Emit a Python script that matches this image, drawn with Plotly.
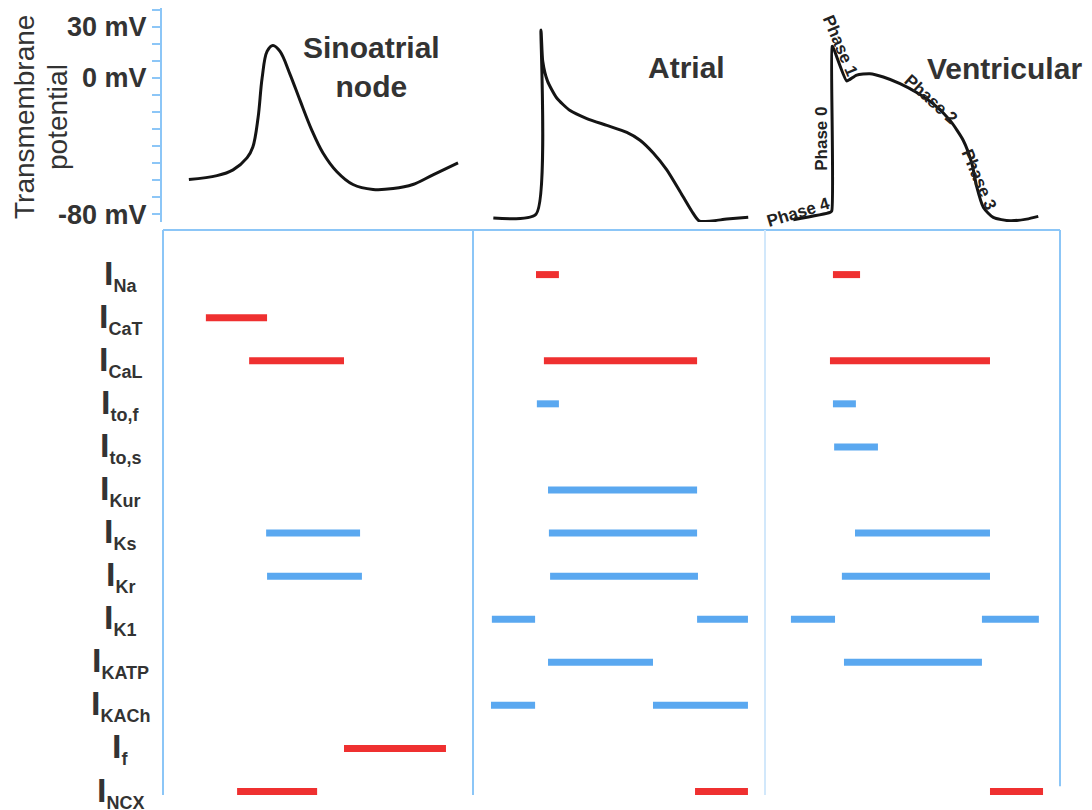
import plotly.graph_objects as go

W, H = 1092, 810
FONT = "Liberation Sans, Arial, sans-serif"
TXT = "#333333"
AXIS_BLUE = "#8cc6f7"
FAINT_BLUE = "#d2e8fb"
BAR_BLUE = "#5aa8f0"
BAR_RED = "#ef3030"

def px(x):
    return x / W

def py(y):
    return 1 - y / H

# ---------------- data ----------------
# membrane potential axis: labelled ticks and 10 mV minor ticks
mv_ticks = [30, 0, -80]
mv_labels = ["30 mV", "0 mV", "-80 mV"]
mv_minor_step = 10

# action potentials: time in a.u. (0-100 across each panel), potential in mV
sa_t = [8.7, 17.8, 23.0, 27.5, 29.4, 31.1, 32.4, 34.0, 35.9, 38.2, 41.4, 44.7,
        48.5, 52.1, 56.6, 61.8, 68.3, 74.8, 81.2, 87.7, 95.8]
sa_v = [-59.7, -57.4, -54.0, -47.0, -40.6, -23.3, -0.1, 15.5, 19.0, 15.5, 2.2,
        -13.4, -30.8, -44.1, -55.1, -62.6, -65.5, -65.0, -62.6, -56.9, -49.9]

atr_t = [7.6, 22.1, 23.8, 24.4, 26.0, 29.1, 33.7, 39.4, 46.2, 53.0, 57.5, 62.0,
         66.6, 71.1, 75.1, 77.7, 87.0, 94.3]
atr_v = [-82.3, -80.0, 28.1, 9.7, -1.8, -11.7, -19.2, -23.9, -27.9, -32.0, -36.6,
         -44.1, -54.0, -66.7, -78.3, -84.1, -82.9, -81.8]

ven_t = [9.5, 21.8, 22.4, 22.5, 22.7, 27.4, 28.5, 30.8, 35.2, 39.7, 45.3, 50.9,
         56.5, 62.1, 66.5, 69.4, 71.0, 73.3, 76.6, 82.2, 87.8, 91.7]
ven_v = [-83.3, -79.0, -78.1, 18.4, 18.4, -1.8, -0.9, 1.6, 2.4, 0.5, -3.4, -8.6,
         -15.3, -25.0, -36.6, -50.1, -63.6, -76.1, -81.9, -83.9, -82.9, -81.3]

# ionic currents (rows, top to bottom)
currents = ["Na", "CaT", "CaL", "to,f", "to,s", "Kur", "Ks", "Kr", "K1",
            "KATP", "KACh", "f", "NCX"]
inward = ["Na", "CaT", "CaL", "f", "NCX"]

# active intervals of each current (a.u. time within each panel)
sa_cur = ["CaT", "CaL", "Ks", "Kr", "f", "NCX"]
sa_start = [14.2, 28.2, 33.7, 34.0, 58.9, 24.3]
sa_end = [34.0, 58.9, 64.1, 64.7, 91.9, 50.2]

atr_cur = ["Na", "CaL", "to,f", "Kur", "Ks", "Kr", "K1", "K1", "KATP", "KACh", "KACh", "NCX"]
atr_start = [22.1, 24.8, 22.4, 26.2, 26.5, 26.9, 7.1, 76.9, 26.2, 6.8, 61.9, 76.2]
atr_end = [29.9, 76.9, 29.9, 76.9, 76.9, 77.2, 21.8, 94.2, 61.9, 21.8, 94.2, 94.2]

ven_cur = ["Na", "CaL", "to,f", "to,s", "Ks", "Kr", "K1", "K1", "KATP", "NCX"]
ven_start = [22.8, 21.8, 22.8, 23.2, 30.2, 25.8, 8.7, 72.8, 26.5, 75.5]
ven_end = [31.9, 75.5, 30.5, 37.9, 75.5, 75.5, 23.5, 91.9, 72.8, 93.3]

# ---------------- figure ----------------
fig = go.Figure()

for xa, t, v, sm in [("x", sa_t, sa_v, 1.0),
                     ("x2", atr_t, atr_v, 0.6),
                     ("x3", ven_t, ven_v, 0.6)]:
    fig.add_trace(go.Scatter(x=t, y=v, xaxis=xa, yaxis="y", mode="lines",
                             line=dict(color="#141414", width=3, shape="spline",
                                       smoothing=sm),
                             hoverinfo="skip", showlegend=False))

def add_bars(xa, names, starts, ends):
    for color, is_in in [(BAR_RED, True), (BAR_BLUE, False)]:
        xs, ys = [], []
        for n, s, e in zip(names, starts, ends):
            if (n in inward) == is_in:
                r = currents.index(n)
                xs += [s, e, None]
                ys += [r, r, None]
        if xs:
            fig.add_trace(go.Scatter(x=xs, y=ys, xaxis=xa, yaxis="y2", mode="lines",
                                     line=dict(color=color, width=7),
                                     hoverinfo="skip", showlegend=False))

add_bars("x", sa_cur, sa_start, sa_end)
add_bars("x2", atr_cur, atr_start, atr_end)
add_bars("x3", ven_cur, ven_start, ven_end)

# axes geometry
top_px, bot_px = 8, 224
mv_per_px = 110 / 190.0
y_top = 30 + (27 - top_px) * mv_per_px
y_bot = -80 - (bot_px - 216) * mv_per_px

row0_px, row_step = 277, 43.45
b_top_px, b_bot_px = 232, 810
r_top = (b_top_px - row0_px) / row_step
r_bot = (b_bot_px - row0_px) / row_step

col_edges = [162, 471, 765, 1063]

minor = dict(ticks="outside", ticklen=8, tickwidth=2, tickcolor=AXIS_BLUE,
             dtick=mv_minor_step, tick0=0, showgrid=False)
axis_style = dict(showline=True, linecolor=AXIS_BLUE, linewidth=2,
                  ticks="outside", ticklen=8, tickwidth=2, tickcolor=AXIS_BLUE,
                  tickvals=mv_ticks, showgrid=False, zeroline=False,
                  range=[y_bot, y_top], fixedrange=True, minor=minor)

fig.update_layout(
    width=W, height=H, margin=dict(l=0, r=0, t=0, b=0),
    paper_bgcolor="white", plot_bgcolor="rgba(0,0,0,0)",
    font=dict(family=FONT, color=TXT),
    xaxis=dict(domain=[px(col_edges[0]), px(col_edges[1])], range=[0, 100],
               visible=False, anchor="y"),
    xaxis2=dict(domain=[px(col_edges[1]), px(col_edges[2])], range=[0, 100],
                visible=False, anchor="y"),
    xaxis3=dict(domain=[px(col_edges[2]), px(col_edges[3])], range=[0, 100],
                visible=False, anchor="y"),
    yaxis=dict(domain=[py(bot_px), py(top_px)], anchor="x",
               ticktext=mv_labels,
               tickfont=dict(family=FONT, size=27, color=TXT, weight="bold"),
               **axis_style),
    yaxis3=dict(domain=[py(bot_px), py(top_px)], overlaying="y", anchor="free",
                position=px(473), showticklabels=False, **axis_style),
    yaxis4=dict(domain=[py(bot_px), py(top_px)], overlaying="y", anchor="free",
                position=px(767), showticklabels=False, **axis_style),
    yaxis2=dict(domain=[py(b_bot_px), py(b_top_px)], range=[r_bot, r_top],
                visible=False, anchor="x", fixedrange=True),
)

# frame of the lower panel
shapes = [
    dict(x0=px(163), x1=px(1060), y0=py(232), y1=py(232), color=AXIS_BLUE),
    dict(x0=px(163), x1=px(163), y0=py(232), y1=py(802), color=AXIS_BLUE),
    dict(x0=px(473), x1=px(473), y0=py(232), y1=py(802), color=AXIS_BLUE),
    dict(x0=px(765), x1=px(765), y0=py(232), y1=py(802), color=FAINT_BLUE),
    dict(x0=px(1060), x1=px(1060), y0=py(232), y1=py(793), color=AXIS_BLUE),
]
for s in shapes:
    fig.add_shape(type="line", xref="paper", yref="paper",
                  x0=s["x0"], x1=s["x1"], y0=s["y0"], y1=s["y1"],
                  line=dict(color=s["color"], width=2))

ann = []
# current labels
for i, n in enumerate(currents):
    ann.append(dict(x=px(120), y=i, xref="paper", yref="y2",
                    text="I<sub><span style='font-size:18px'>%s</span></sub>" % n,
                    showarrow=False, xanchor="center", yanchor="middle",
                    font=dict(family=FONT, size=34, color=TXT, weight="bold")))

# panel titles
for txt, x, y in [("Sinoatrial<br>node", 371, 68), ("Atrial", 686, 68),
                  ("Ventricular", 1004, 69)]:
    ann.append(dict(x=px(x), y=py(y), xref="paper", yref="paper", text=txt,
                    showarrow=False, xanchor="center", yanchor="middle",
                    font=dict(family=FONT, size=30, color=TXT, weight="bold")))

# y title
for txt, x in [("Transmembrane", 25), ("potential", 58)]:
    ann.append(dict(x=px(x), y=py(118), xref="paper", yref="paper", text=txt,
                    textangle=-90, showarrow=False, xanchor="center", yanchor="middle",
                    font=dict(family=FONT, size=28, color=TXT)))

# phase labels
for txt, x, y, ang in [("Phase 0", 822, 140, -90), ("Phase 1", 840, 46, 67),
                       ("Phase 2", 931, 100, 42), ("Phase 3", 979, 181, 67),
                       ("Phase 4", 798, 214, -17)]:
    ann.append(dict(x=px(x), y=py(y), xref="paper", yref="paper", text=txt,
                    textangle=ang, showarrow=False, xanchor="center", yanchor="middle",
                    font=dict(family=FONT, size=17, color="#222222", weight="bold")))

fig.update_layout(annotations=ann)
fig.write_html("out.html", config={"displayModeBar": False},
               post_script="document.body.style.margin='0';document.body.style.overflow='hidden';")
